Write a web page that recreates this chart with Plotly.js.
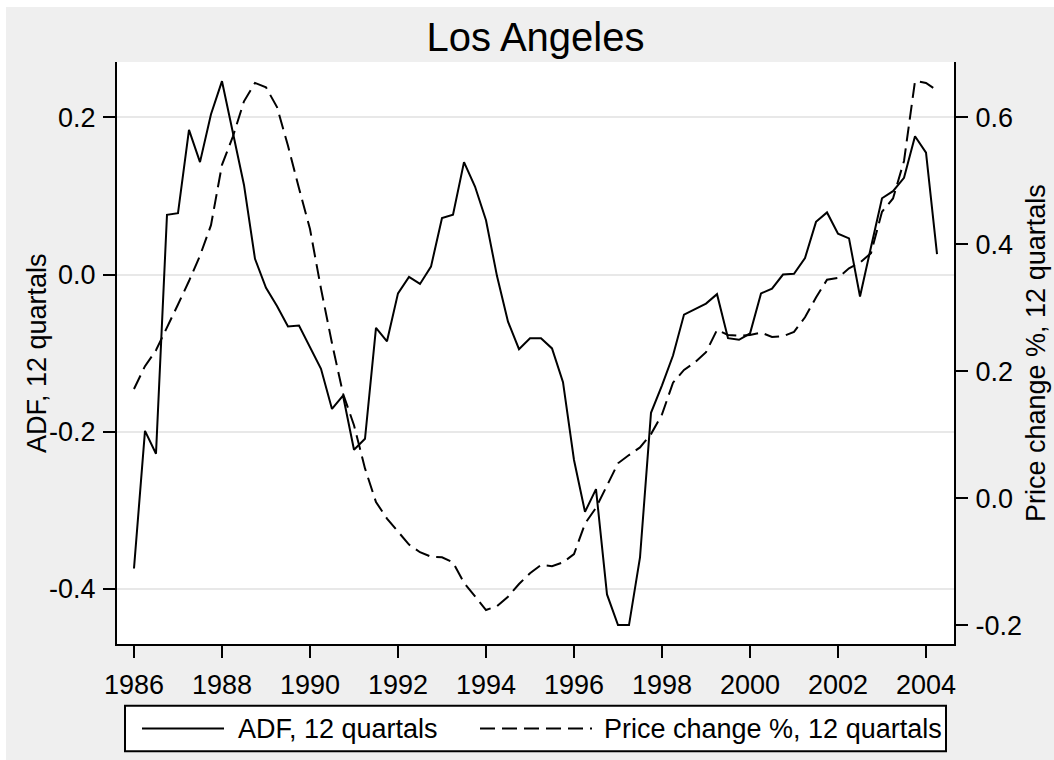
<!DOCTYPE html>
<html>
<head>
<meta charset="utf-8">
<script src="https://cdn.plot.ly/plotly-3.0.1.min.js"></script>
<style>
  html, body { margin: 0; padding: 0; background: #ffffff; }
  #chart { position: absolute; left: 6px; top: 7px; width: 1048px; height: 753px; }
</style>
</head>
<body>
<div id="chart"></div>
<script>
// Quarterly observations, 1986q1 .. 2004q2
const startYear = 1986;
const adf = [
  -0.374, -0.199, -0.228, 0.076,   // 1986
   0.078,  0.184,  0.143, 0.204,   // 1987
   0.246,  0.180,  0.114, 0.020,   // 1988
  -0.017, -0.040, -0.066, -0.065,  // 1989
  -0.092, -0.120, -0.171, -0.154,  // 1990
  -0.223, -0.209, -0.068, -0.085,  // 1991
  -0.024, -0.003, -0.012, 0.010,   // 1992
   0.072,  0.076,  0.143, 0.112,   // 1993
   0.069, -0.002, -0.060, -0.095,  // 1994
  -0.081, -0.081, -0.094, -0.137,  // 1995
  -0.236, -0.302, -0.273, -0.407,  // 1996
  -0.446, -0.446, -0.360, -0.176,  // 1997
  -0.141, -0.103, -0.051, -0.044,  // 1998
  -0.037, -0.025, -0.081, -0.083,  // 1999
  -0.075, -0.024, -0.018, 0.000,   // 2000
   0.001,  0.021,  0.067, 0.079,   // 2001
   0.052,  0.046, -0.028, 0.035,   // 2002
   0.097,  0.106,  0.123, 0.176,   // 2003
   0.155,  0.026                   // 2004
];
const priceChange = [
   0.172,  0.208,  0.233,  0.268,  // 1986
   0.305,  0.342,  0.382,  0.430,  // 1987
   0.525,  0.570,  0.625,  0.654,  // 1988
   0.647,  0.616,  0.555,  0.488,  // 1989
   0.424,  0.330,  0.244,  0.165,  // 1990
   0.115,  0.047, -0.006, -0.032,  // 1991
  -0.052, -0.073, -0.085, -0.092,  // 1992
  -0.093, -0.101, -0.133, -0.155,  // 1993
  -0.176, -0.170, -0.155, -0.135,  // 1994
  -0.118, -0.105, -0.107, -0.101,  // 1995
  -0.088, -0.040, -0.015,  0.020,  // 1996
   0.055,  0.068,  0.080,  0.101,  // 1997
   0.132,  0.182,  0.202,  0.214,  // 1998
   0.230,  0.265,  0.257,  0.256,  // 1999
   0.257,  0.261,  0.254,  0.255,  // 2000
   0.262,  0.285,  0.316,  0.344,  // 2001
   0.347,  0.362,  0.371,  0.386,  // 2002
   0.451,  0.472,  0.531,  0.657,  // 2003
   0.654,  0.642                   // 2004
];
const xTickVals = [1986, 1988, 1990, 1992, 1994, 1996, 1998, 2000, 2002, 2004];
const xTickText = ["1986", "1988", "1990", "1992", "1994", "1996", "1998", "2000", "2002", "2004"];
const yTickVals = [0.2, 0.0, -0.2, -0.4];
const yTickText = ["0.2", "0.0", "-0.2", "-0.4"];
const y2TickVals = [0.6, 0.4, 0.2, 0.0, -0.2];
const y2TickText = ["0.6", "0.4", "0.2", "0.0", "-0.2"];
const titleText = "Los Angeles";
const seriesNames = ["ADF, 12 quartals", "Price change %, 12 quartals"];

const quarters = adf.map((_, i) => startYear + i / 4);

const FONT = "Liberation Sans, Arial, Helvetica, sans-serif";
const fs = 27;
const LW = 2;
const DASH = "15px,7px";

const traces = [
  { x: quarters, y: adf, name: seriesNames[0], type: "scatter", mode: "lines",
    line: { color: "#000000", width: LW }, yaxis: "y" },
  { x: quarters, y: priceChange, name: seriesNames[1], type: "scatter", mode: "lines",
    line: { color: "#000000", width: LW, dash: DASH }, yaxis: "y2" }
];

// pixel helpers relative to plot area (left 117, right 954, top 62, bottom 637 in page px)
const PL = 117, PR = 954, PT = 62, PB = 637;
const px = v => (v - PL) / (PR - PL);
const py = v => (PB - v) / (PB - PT);

const legTop = 698, legBot = 743, legMid = (legTop + legBot) / 2;

const layout = {
  width: 1048, height: 753,
  paper_bgcolor: "#efefef",
  plot_bgcolor: "#ffffff",
  margin: { l: 111, r: 100, t: 55, b: 116, pad: 0 },
  showlegend: false,
  font: { family: FONT, size: fs, color: "#000000" },
  title: { text: titleText, font: { family: FONT, size: 40, color: "#000000" },
           x: 0.5, xref: "paper", xanchor: "center", y: 1 - (37 - 7) / 753, yref: "container", yanchor: "middle" },
  xaxis: {
    range: [1985.614, 2004.636], tickmode: "array", tickvals: xTickVals, ticktext: xTickText,
    showgrid: false, zeroline: false, showline: true, linecolor: "#000000", linewidth: 2,
    ticks: "outside", ticklen: 12, tickwidth: 2, tickcolor: "#000000",
    tickfont: { family: FONT, size: fs, color: "#000000" }, ticklabelstandoff: 4
  },
  yaxis: {
    range: [-0.4701, 0.2704], tickmode: "array", tickvals: yTickVals, ticktext: yTickText,
    showgrid: true, gridcolor: "#e8e8e8", gridwidth: 2, zeroline: false,
    showline: true, linecolor: "#000000", linewidth: 2,
    ticks: "outside", ticklen: 12, tickwidth: 2, tickcolor: "#000000",
    tickfont: { family: FONT, size: fs, color: "#000000" }, ticklabelstandoff: 2
  },
  yaxis2: {
    range: [-0.2295, 0.6869], overlaying: "y", side: "right", tickmode: "array",
    tickvals: y2TickVals, ticktext: y2TickText,
    showgrid: false, zeroline: false, showline: true, linecolor: "#000000", linewidth: 2,
    ticks: "outside", ticklen: 12, tickwidth: 2, tickcolor: "#000000",
    tickfont: { family: FONT, size: fs, color: "#000000" }, ticklabelstandoff: 2
  },
  shapes: [
    { type: "rect", xref: "paper", yref: "paper", x0: px(125), x1: px(946), y0: py(legBot), y1: py(legTop),
      line: { color: "#000000", width: 2 }, fillcolor: "#ffffff", layer: "above" },
    { type: "line", xref: "paper", yref: "paper", x0: px(142), x1: px(224), y0: py(legMid), y1: py(legMid),
      line: { color: "#000000", width: LW } },
    { type: "line", xref: "paper", yref: "paper", x0: px(480), x1: px(592), y0: py(legMid), y1: py(legMid),
      line: { color: "#000000", width: LW, dash: DASH } }
  ],
  annotations: [
    { text: seriesNames[0], xref: "paper", yref: "paper", x: px(236), y: py(legMid),
      xanchor: "left", yanchor: "middle", showarrow: false, font: { family: FONT, size: fs } },
    { text: seriesNames[1], xref: "paper", yref: "paper", x: px(602), y: py(legMid),
      xanchor: "left", yanchor: "middle", showarrow: false, font: { family: FONT, size: fs } },
    { text: seriesNames[0], xref: "paper", yref: "paper", x: px(37), y: 0.5, textangle: -90,
      xanchor: "center", yanchor: "middle", showarrow: false, font: { family: FONT, size: fs } },
    { text: seriesNames[1], xref: "paper", yref: "paper", x: px(1036), y: 0.5, textangle: -90,
      xanchor: "center", yanchor: "middle", showarrow: false, font: { family: FONT, size: fs } }
  ]
};

Plotly.newPlot("chart", traces, layout, { displayModeBar: false, staticPlot: true });
</script>
</body>
</html>
